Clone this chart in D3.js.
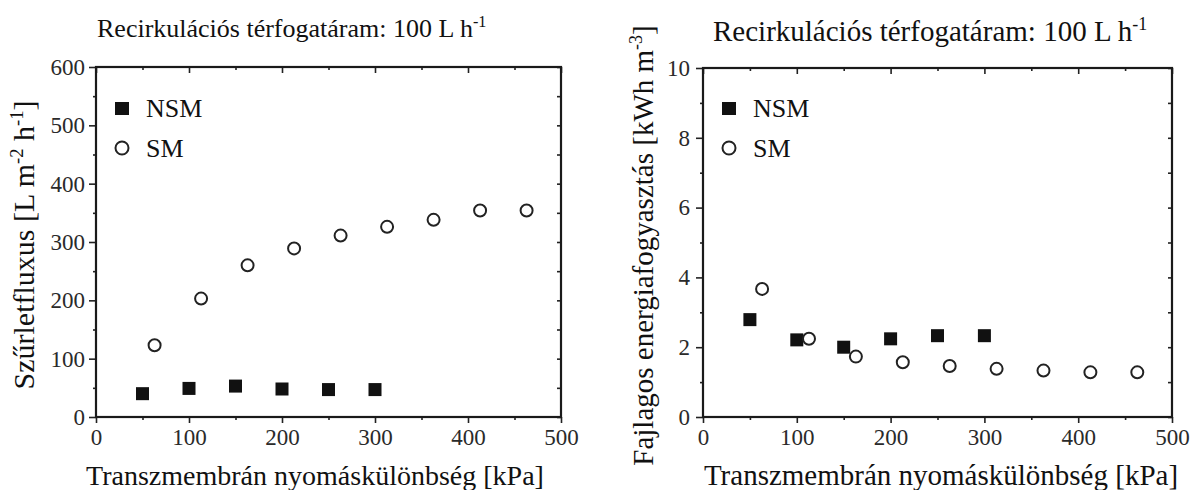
<!DOCTYPE html>
<html>
<head>
<meta charset="utf-8">
<script src="https://cdn.jsdelivr.net/npm/d3@7"></script>
<style>
	body { margin: 0; background: #fff; }
	svg { display: block; }
	text { font-family: "Liberation Serif", "Times New Roman", serif; fill: #111; }
</style>
</head>
<body>
<svg id="chart" width="1192" height="490"></svg>
<script>
// data
const pressureNSM = [50, 100, 150, 200, 250, 300];
const pressureSM = [63, 113, 163, 213, 263, 313, 363, 413, 463];
const fluxNSM = [40, 49, 53, 48, 47, 47];
const fluxSM = [123, 203, 260, 289, 311, 326, 338, 354, 354];
const energyNSM = [2.79, 2.21, 2.0, 2.24, 2.33, 2.33];
const energySM = [3.67, 2.24, 1.73, 1.57, 1.46, 1.38, 1.33, 1.28, 1.28];

const xTicks = [0, 100, 200, 300, 400, 500];
const xMinor = [50, 150, 250, 350, 450];
const fluxTicks = [0, 100, 200, 300, 400, 500, 600];
const fluxMinor = [50, 150, 250, 350, 450, 550];
const energyTicks = [0, 2, 4, 6, 8, 10];
const energyMinor = [1, 3, 5, 7, 9];

const seriesNames = ["NSM", "SM"];
const titleParts = [["Recirkulációs térfogatáram: 100 L h"], ["-1", true]];
const xTitle = "Transzmembrán nyomáskülönbség [kPa]";
const fluxTitle = [["Szűrletfluxus [L m"], ["-2", true], [" h"], ["-1", true], ["]"]];
const energyTitle = [["Fajlagos energiafogyasztás [kWh m"], ["-3", true], ["]"]];

const svg = d3.select("#chart");

// text with superscripts
function richText(sel, parts, size) {
	parts.forEach(([str, sup]) => {
		const t = sel.append("tspan").text(str);
		if (sup) t.attr("font-size", size * 0.62).attr("dy", -size * 0.38);
		else if (sel.selectAll("tspan").size() > 1) t.attr("dy", size * 0.38);
	});
	return sel;
}

function drawPanel(cfg) {
	const x = d3.scaleLinear().domain([0, 500]).range([cfg.left, cfg.right]);
	const y = d3.scaleLinear().domain(cfg.yDomain).range([cfg.bottom, cfg.top]);
	const g = svg.append("g");

	const tickStyle = sel => {
		sel.select(".domain").remove();
		sel.selectAll("line").attr("stroke", "#222").attr("stroke-width", 1.6);
		sel.selectAll("text").style("font-size", "23px").style("fill", "#2a2a2a");
	};

	// major + minor ticks
	g.append("g").attr("transform", `translate(0,${cfg.bottom})`)
		.call(d3.axisBottom(x).tickValues(xTicks).tickSize(6).tickPadding(6)).call(tickStyle);
	g.append("g").attr("transform", `translate(0,${cfg.bottom})`)
		.call(d3.axisBottom(x).tickValues(xMinor).tickSize(3).tickFormat("")).call(tickStyle);
	g.append("g").attr("transform", `translate(0,${cfg.top})`)
		.call(d3.axisTop(x).tickValues(xTicks).tickSize(-6).tickFormat("")).call(tickStyle);
	g.append("g").attr("transform", `translate(0,${cfg.top})`)
		.call(d3.axisTop(x).tickValues(xMinor).tickSize(-3).tickFormat("")).call(tickStyle);
	g.append("g").attr("transform", `translate(${cfg.left},0)`)
		.call(d3.axisLeft(y).tickValues(cfg.yTicks).tickSize(7).tickPadding(cfg.yPad)).call(tickStyle);
	g.append("g").attr("transform", `translate(${cfg.left},0)`)
		.call(d3.axisLeft(y).tickValues(cfg.yMinor).tickSize(3).tickFormat("")).call(tickStyle);
	g.append("g").attr("transform", `translate(${cfg.right},0)`)
		.call(d3.axisRight(y).tickValues(cfg.yTicks.concat(cfg.yMinor)).tickSize(-4).tickFormat("")).call(tickStyle);

	g.append("rect")
		.attr("x", cfg.left).attr("y", cfg.top)
		.attr("width", cfg.right - cfg.left).attr("height", cfg.bottom - cfg.top)
		.attr("fill", "none").attr("stroke", "#1a1a1a").attr("stroke-width", 2.2);

	// NSM squares
	g.selectAll(".sq").data(pressureNSM.map((p, i) => [p, cfg.nsm[i]])).join("rect")
		.attr("x", d => x(d[0]) - 6.5).attr("y", d => y(d[1]) - 6.5)
		.attr("width", 13).attr("height", 13).attr("fill", "#111");

	// SM circles
	g.selectAll(".ci").data(pressureSM.map((p, i) => [p, cfg.sm[i]])).join("circle")
		.attr("cx", d => x(d[0])).attr("cy", d => y(d[1])).attr("r", 6)
		.attr("fill", "none").attr("stroke", "#222").attr("stroke-width", 2);

	// legend
	const lg = g.append("g").attr("transform", `translate(${cfg.left + 26},0)`);
	lg.append("rect").attr("x", -7).attr("y", 102).attr("width", 14).attr("height", 13).attr("fill", "#111");
	lg.append("circle").attr("cx", 0).attr("cy", 148).attr("r", 6.5)
		.attr("fill", "none").attr("stroke", "#222").attr("stroke-width", 2);
	lg.selectAll("text.lab").data(seriesNames).join("text")
		.attr("x", 24).attr("y", (d, i) => 117 + i * 40)
		.attr("font-size", 26).text(d => d);

	// titles
	richText(g.append("text").attr("x", cfg.titleX).attr("y", cfg.titleY).attr("font-size", cfg.titleSize),
		titleParts, cfg.titleSize);
	g.append("text").attr("x", cfg.xTitleX).attr("y", 485).attr("text-anchor", "middle")
		.attr("font-size", cfg.xTitleSize).text(xTitle);
	richText(g.append("text")
		.attr("transform", `translate(${cfg.yTitleX},${(cfg.top + cfg.bottom) / 2 + 3}) rotate(-90)`)
		.attr("text-anchor", "middle").attr("font-size", cfg.yTitleSize), cfg.yTitle, cfg.yTitleSize);
}

drawPanel({
	left: 96, right: 561, top: 67, bottom: 417,
	yDomain: [0, 600], yTicks: fluxTicks, yMinor: fluxMinor, yPad: 4,
	nsm: fluxNSM, sm: fluxSM,
	titleX: 97, titleY: 37, titleSize: 26,
	xTitleX: 315, xTitleSize: 28,
	yTitleX: 34, yTitleSize: 30, yTitle: fluxTitle
});

drawPanel({
	left: 703, right: 1172, top: 68, bottom: 417,
	yDomain: [0, 10], yTicks: energyTicks, yMinor: energyMinor, yPad: 6,
	nsm: energyNSM, sm: energySM,
	titleX: 713, titleY: 41, titleSize: 29,
	xTitleX: 941, xTitleSize: 29,
	yTitleX: 653, yTitleSize: 29, yTitle: energyTitle
});
</script>
</body>
</html>
